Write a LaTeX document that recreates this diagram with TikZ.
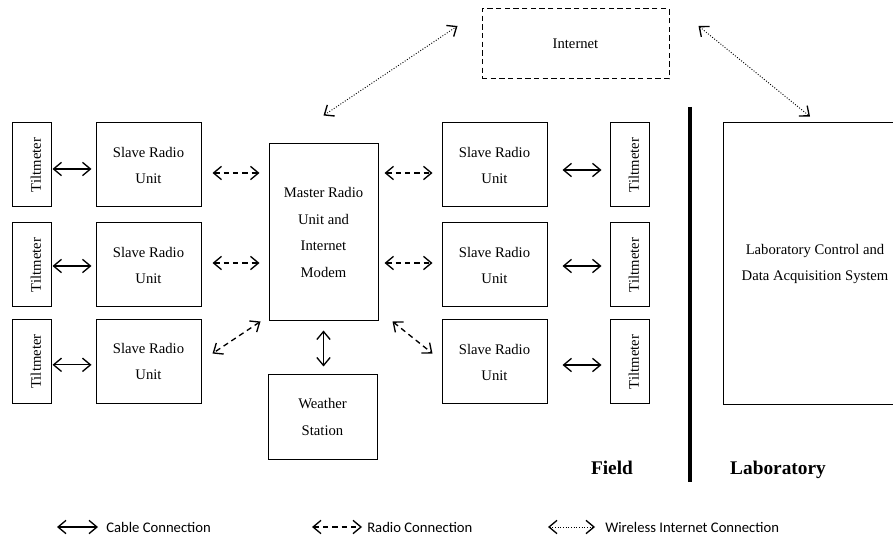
\documentclass[tikz,border=0pt]{standalone}
\usepackage{fontspec}
\usepackage{graphicx}
\setmainfont{Liberation Serif}
\newfontfamily\serifmain{Liberation Serif}
\newfontfamily\legendfont{Carlito}
\usetikzlibrary{arrows.meta}
\begin{document}
\begin{tikzpicture}[x=0.75pt,y=-0.75pt,
  box/.style={draw, line width=0.75pt, inner sep=0pt, align=center, font=\serifmain\fontsize{11}{19.5}\selectfont},
  tiltbox/.style={box, minimum width=29.25pt, minimum height=63pt},
  slavebox/.style={box, minimum width=78.75pt, minimum height=63pt},
  chev/.tip={Straight Barb[length=6pt,width=10pt,line width=1pt]},
  cable/.style={line width=1pt, chev-chev},
  radio/.style={line width=1pt, dash pattern=on 4pt off 3pt, chev-chev},
  wireless/.style={line width=0.7pt, dash pattern=on 0.7pt off 1.3pt, chev-chev},
  region/.style={font=\serifmain\bfseries\fontsize{14.5}{17}\selectfont},
  legtext/.style={anchor=west, inner sep=0pt, font=\legendfont\fontsize{11}{13}\selectfont},
]
\clip (0,0) rectangle (893,538);
\fill[white] (0,0) rectangle (893,538);

% left column
\foreach \i/\y in {1/165,2/265,3/361.5}{
  \node[tiltbox] (tl\i) at (31.5,\y) {\rotatebox{90}{\rule{0pt}{14pt}Tiltmeter}};
  \node[slavebox] (sl\i) at (148.5,\y) {Slave Radio\\Unit};
}
% right column
\foreach \i/\y in {1/165,2/265,3/362}{
  \node[slavebox] (sr\i) at (494.5,\y) {Slave Radio\\Unit};
  \node[tiltbox] (tr\i) at (629.5,\y) {\rotatebox{90}{\rule{0pt}{14pt}Tiltmeter}};
}

\node[box, minimum width=81.75pt, minimum height=132.75pt, font=\serifmain\fontsize{11}{20}\selectfont] (m) at (323.5,232.5) {Master Radio\\Unit and\\Internet\\Modem};
\node[box, minimum width=81.75pt, minimum height=63pt, font=\serifmain\fontsize{11}{20}\selectfont] (ws) at (322.5,417) {Weather\\Station};
\node[box, dash pattern=on 4pt off 2.5pt, minimum width=140.25pt, minimum height=52.5pt] (inet) at (575.5,44) {Internet};
\node[box, minimum width=138pt, minimum height=211.5pt] (lab) at (815,264) {Laboratory Control and\\Data Acquisition System};

% cable connections
\draw[cable, shorten <=0.75pt, shorten >=3pt] ([yshift=-3pt]tl1.east) -- ([yshift=-3pt]sl1.west);
\draw[cable, shorten <=0.75pt, shorten >=3pt] ([yshift=-0.75pt]tl2.east) -- ([yshift=-0.75pt]sl2.west);
\draw[cable, shorten <=0.75pt, shorten >=3pt] ([yshift=-2.5pt]tl3.east) -- ([yshift=-2.5pt]sl3.west);
\draw[cable, shorten <=11.25pt, shorten >=6pt] ([yshift=-3.75pt]sr1.east) -- ([yshift=-3.75pt]tr1.west);
\draw[cable, shorten <=11.25pt, shorten >=6pt] ([yshift=-0.75pt]sr2.east) -- ([yshift=-0.75pt]tr2.west);
\draw[cable, shorten <=11.25pt, shorten >=6pt] ([yshift=-2.25pt]sr3.east) -- ([yshift=-2.25pt]tr3.west);
\draw[cable, shorten <=6.75pt, shorten >=6pt] (m.south) -- (m.south |- ws.north);

% radio connections
\draw[radio, shorten <=8.25pt, shorten >=6.75pt] ([yshift=-6pt]sl1.east) -- ([yshift=-6pt]sl1.east -| m.west);
\draw[radio, shorten <=8.25pt, shorten >=6.75pt] ([yshift=1.5pt]sl2.east) -- ([yshift=1.5pt]sl2.east -| m.west);
\draw[radio, shorten <=4.5pt, shorten >=6.75pt] ([yshift=-6pt]sr1.west -| m.east) -- ([yshift=-6pt]sr1.west);
\draw[radio, shorten <=4.5pt, shorten >=6.75pt] ([yshift=1.5pt]sr2.west -| m.east) -- ([yshift=1.5pt]sr2.west);
\draw[radio] ([xshift=-6pt]m.south west) -- ([xshift=8.25pt,yshift=-25.9pt]sl3.north east);
\draw[radio] ([xshift=10.5pt]m.south east) -- ([xshift=-6.75pt,yshift=-25.5pt]sr3.north west);

% wireless internet connections
\draw[wireless] ([yshift=21pt]m.north) -- ([xshift=-18pt,yshift=13.5pt]inet.west);
\draw[wireless] ([xshift=21.75pt,yshift=13.5pt]inet.east) -- ([xshift=-3.75pt,yshift=4.5pt]lab.north);

% field / laboratory divider
\coordinate (divtop) at (690,107);
\coordinate (divbot) at (690,482);
\draw[line width=2.4pt] (divtop) -- (divbot);
\node[region] (field) at (612,468) {Field};
\node[region] (labtxt) at (778,470) {Laboratory};

% legend
\coordinate (lc1) at (57,527);  \coordinate (lc2) at (98,527);
\coordinate (lr1) at (312,527); \coordinate (lr2) at (362,527);
\coordinate (lw1) at (548,527); \coordinate (lw2) at (595,527);
\draw[cable] (lc1) -- (lc2);
\draw[radio] (lr1) -- (lr2);
\draw[wireless] (lw1) -- (lw2);
\node[legtext] (lct) at (106,527) {Cable Connection};
\node[legtext] (lrt) at (367,527) {Radio Connection};
\node[legtext] (lwt) at (605,527) {Wireless Internet Connection};
\end{tikzpicture}
\end{document}
